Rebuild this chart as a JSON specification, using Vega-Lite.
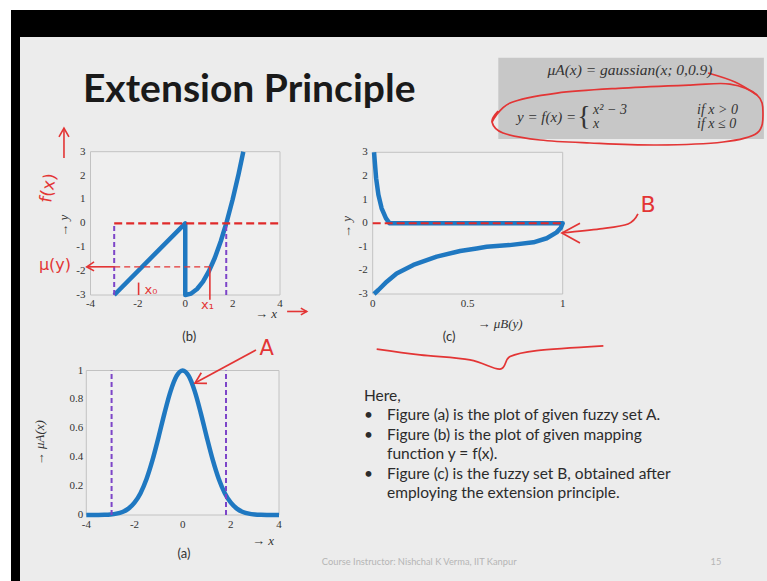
{
  "$schema": "https://vega.github.io/schema/vega-lite/v6.json",
  "width": 756,
  "height": 571,
  "autosize": {"type": "none"},
  "padding": {"left": 11, "top": 10, "right": 0, "bottom": 0},
  "background": "#ffffff",
  "config": {
    "view": {"fill": "#000000", "stroke": null},
    "font": "Lato"
  },
  "resolve": {"scale": {"x": "independent", "y": "independent"}},
  "layer": [
    {
      "data": {"values": [{"left": 0, "right": 1, "top": 0, "bottom": 1}]},
      "mark": {"type": "rect", "fill": "#ececec"},
      "encoding": {
        "x": {"field": "left", "type": "quantitative", "scale": {"domain": [0, 1], "range": [9, 756], "nice": false, "zero": false}, "axis": null},
        "x2": {"field": "right"},
        "y": {"field": "top", "type": "quantitative", "scale": {"domain": [0, 1], "range": [27, 571], "nice": false, "zero": false}, "axis": null},
        "y2": {"field": "bottom"}
      }
    },
    {
      "layer": [
        {
          "data": {"values": [{"x1": -4, "x2": 4, "y1": -3, "y2": 3}]},
          "mark": {"type": "rect", "fill": "#efefef", "stroke": "#c2c2c2", "strokeWidth": 1},
          "encoding": {
            "x": {"field": "x1", "type": "quantitative", "scale": {"domain": [-4, 4], "range": [79.5, 269], "nice": false, "zero": false}, "axis": null},
            "x2": {"field": "x2"},
            "y": {"field": "y1", "type": "quantitative", "scale": {"domain": [-3, 3], "range": [285, 141.7], "nice": false, "zero": false}, "axis": null},
            "y2": {"field": "y2"}
          }
        },
        {
          "data": {"values": [{"v": -3}, {"v": -2}, {"v": -1}, {"v": 0}, {"v": 1}, {"v": 2}, {"v": 3}]},
          "mark": {"type": "text", "align": "right", "baseline": "middle", "dx": -5, "font": "Liberation Serif", "fontSize": 11, "color": "#333333"},
          "encoding": {
            "x": {"datum": -4, "type": "quantitative", "axis": null},
            "y": {"field": "v", "type": "quantitative", "axis": null},
            "text": {"field": "v", "type": "nominal"}
          }
        },
        {
          "data": {"values": [{"v": -4}, {"v": -2}, {"v": 0}, {"v": 2}, {"v": 4}]},
          "mark": {"type": "text", "align": "center", "baseline": "top", "dy": 3, "font": "Liberation Serif", "fontSize": 11, "color": "#333333"},
          "encoding": {
            "x": {"field": "v", "type": "quantitative", "axis": null},
            "y": {"datum": -3, "type": "quantitative", "axis": null},
            "text": {"field": "v", "type": "nominal"}
          }
        },
        {
          "data": {"values": [{"t": "→ y", "x": -5.1, "y": -0.1}]},
          "mark": {"type": "text", "angle": 270, "font": "Liberation Serif", "fontStyle": "italic", "fontSize": 13, "color": "#333333"},
          "encoding": {
            "x": {"field": "x", "type": "quantitative", "axis": null},
            "y": {"field": "y", "type": "quantitative", "axis": null},
            "text": {"field": "t"}
          }
        },
        {
          "data": {"values": [{"t": "→ x", "x": 3.41, "y": -3.8}]},
          "mark": {"type": "text", "font": "Liberation Serif", "fontStyle": "italic", "fontSize": 13, "color": "#333333"},
          "encoding": {
            "x": {"field": "x", "type": "quantitative", "axis": null},
            "y": {"field": "y", "type": "quantitative", "axis": null},
            "text": {"field": "t"}
          }
        },
        {
          "data": {"values": [
            {"i": 0, "x": -3, "y": -3}, {"i": 1, "x": 0, "y": 0}, {"i": 2, "x": 0, "y": -3},
            {"i": 3, "x": 0.25, "y": -2.94}, {"i": 4, "x": 0.5, "y": -2.75}, {"i": 5, "x": 0.75, "y": -2.44},
            {"i": 6, "x": 1, "y": -2}, {"i": 7, "x": 1.25, "y": -1.44}, {"i": 8, "x": 1.5, "y": -0.75},
            {"i": 9, "x": 1.75, "y": 0.06}, {"i": 10, "x": 2, "y": 1}, {"i": 11, "x": 2.25, "y": 2.06}, {"i": 12, "x": 2.45, "y": 3}
          ]},
          "mark": {"type": "line", "color": "#1f78c1", "strokeWidth": 4.5, "strokeJoin": "round"},
          "encoding": {
            "x": {"field": "x", "type": "quantitative", "axis": null},
            "y": {"field": "y", "type": "quantitative", "axis": null},
            "order": {"field": "i", "type": "quantitative"}
          }
        },
        {
          "data": {"values": [{"x": -3, "y": -3, "y2": 0}, {"x": 1.73, "y": -3, "y2": 0}]},
          "mark": {"type": "rule", "color": "#7d45c8", "strokeWidth": 2, "strokeDash": [5, 3]},
          "encoding": {
            "x": {"field": "x", "type": "quantitative", "axis": null},
            "y": {"field": "y", "type": "quantitative", "axis": null},
            "y2": {"field": "y2"}
          }
        },
        {
          "data": {"values": [{"x": -3, "x2": 4, "y": 0}]},
          "mark": {"type": "rule", "color": "#e02a2a", "strokeWidth": 2.2, "strokeDash": [8, 4]},
          "encoding": {
            "x": {"field": "x", "type": "quantitative", "axis": null},
            "x2": {"field": "x2"},
            "y": {"field": "y", "type": "quantitative", "axis": null}
          }
        },
        {
          "data": {"values": [
            {"seg": "up", "i": 0, "x": -5.12, "y": 2.74}, {"seg": "up", "i": 1, "x": -5.12, "y": 3.99},
            {"seg": "uph", "i": 0, "x": -5.33, "y": 3.62}, {"seg": "uph", "i": 1, "x": -5.12, "y": 3.99}, {"seg": "uph", "i": 2, "x": -4.91, "y": 3.62},
            {"seg": "ms", "i": 0, "x": -4.16, "y": -1.82}, {"seg": "ms", "i": 1, "x": -3.0, "y": -1.82},
            {"seg": "mh", "i": 0, "x": -3.85, "y": -1.615}, {"seg": "mh", "i": 1, "x": -4.16, "y": -1.82}, {"seg": "mh", "i": 2, "x": -3.85, "y": -1.99},
            {"seg": "x0", "i": 0, "x": -1.97, "y": -3.0}, {"seg": "x0", "i": 1, "x": -1.97, "y": -2.48},
            {"seg": "x1", "i": 0, "x": 1.04, "y": -1.82}, {"seg": "x1", "i": 1, "x": 1.04, "y": -3.2},
            {"seg": "xa", "i": 0, "x": 4.3, "y": -3.69}, {"seg": "xa", "i": 1, "x": 5.13, "y": -3.69},
            {"seg": "xah", "i": 0, "x": 4.88, "y": -3.55}, {"seg": "xah", "i": 1, "x": 5.13, "y": -3.69}, {"seg": "xah", "i": 2, "x": 4.88, "y": -3.83}
          ]},
          "mark": {"type": "line", "color": "#e33535", "strokeWidth": 1.6},
          "encoding": {
            "x": {"field": "x", "type": "quantitative", "axis": null},
            "y": {"field": "y", "type": "quantitative", "axis": null},
            "detail": {"field": "seg"},
            "order": {"field": "i", "type": "quantitative"}
          }
        },
        {
          "data": {"values": [{"i": 0, "x": -3.0, "y": -1.82}, {"i": 1, "x": 1.04, "y": -1.82}]},
          "mark": {"type": "line", "color": "#e33535", "strokeWidth": 1.3, "strokeDash": [6, 4]},
          "encoding": {
            "x": {"field": "x", "type": "quantitative", "axis": null},
            "y": {"field": "y", "type": "quantitative", "axis": null},
            "order": {"field": "i", "type": "quantitative"}
          }
        },
        {
          "data": {"values": [{"t": "μ(y)", "x": -5.5, "y": -1.76}]},
          "mark": {"type": "text", "color": "#e33535", "font": "DejaVu Sans", "fontSize": 16},
          "encoding": {
            "x": {"field": "x", "type": "quantitative", "axis": null},
            "y": {"field": "y", "type": "quantitative", "axis": null},
            "text": {"field": "t"}
          }
        },
        {
          "data": {"values": [{"t": "x₀", "x": -1.45, "y": -2.79}, {"t": "x₁", "x": 0.94, "y": -3.42}]},
          "mark": {"type": "text", "color": "#e33535", "font": "DejaVu Sans", "fontSize": 13},
          "encoding": {
            "x": {"field": "x", "type": "quantitative", "axis": null},
            "y": {"field": "y", "type": "quantitative", "axis": null},
            "text": {"field": "t"}
          }
        },
        {
          "data": {"values": [{"t": "f(x)", "x": -5.77, "y": 1.48}]},
          "mark": {"type": "text", "color": "#e33535", "font": "DejaVu Sans", "fontSize": 17, "angle": 280},
          "encoding": {
            "x": {"field": "x", "type": "quantitative", "axis": null},
            "y": {"field": "y", "type": "quantitative", "axis": null},
            "text": {"field": "t"}
          }
        },
        {
          "data": {"values": [{"t": "(b)", "x": 0.17, "y": -4.75}]},
          "mark": {"type": "text", "color": "#333333", "font": "Lato", "fontSize": 13},
          "encoding": {
            "x": {"field": "x", "type": "quantitative", "axis": null},
            "y": {"field": "y", "type": "quantitative", "axis": null},
            "text": {"field": "t"}
          }
        },
        {
          "data": {"values": [{"t": "Extension Principle", "x": -4.32, "y": 5.08}]},
          "mark": {"type": "text", "color": "#1a1a1a", "font": "Lato", "fontSize": 39, "fontWeight": "bold", "align": "left", "baseline": "alphabetic"},
          "encoding": {
            "x": {"field": "x", "type": "quantitative", "axis": null},
            "y": {"field": "y", "type": "quantitative", "axis": null},
            "text": {"field": "t"}
          }
        }
      ]
    },
    {
      "layer": [
        {
          "data": {"values": [{"x1": 0, "x2": 1, "y1": -3, "y2": 3}]},
          "mark": {"type": "rect", "fill": "#efefef", "stroke": "#c2c2c2", "strokeWidth": 1},
          "encoding": {
            "x": {"field": "x1", "type": "quantitative", "scale": {"domain": [0, 1], "range": [361.7, 551.7], "nice": false, "zero": false}, "axis": null},
            "x2": {"field": "x2"},
            "y": {"field": "y1", "type": "quantitative", "scale": {"domain": [-3, 3], "range": [284, 142.3], "nice": false, "zero": false}, "axis": null},
            "y2": {"field": "y2"}
          }
        },
        {
          "data": {"values": [{"v": -3}, {"v": -2}, {"v": -1}, {"v": 0}, {"v": 1}, {"v": 2}, {"v": 3}]},
          "mark": {"type": "text", "align": "right", "baseline": "middle", "dx": -5, "font": "Liberation Serif", "fontSize": 11, "color": "#333333"},
          "encoding": {
            "x": {"datum": 0, "type": "quantitative", "axis": null},
            "y": {"field": "v", "type": "quantitative", "axis": null},
            "text": {"field": "v", "type": "nominal"}
          }
        },
        {
          "data": {"values": [{"v": 0}, {"v": 0.5}, {"v": 1}]},
          "mark": {"type": "text", "align": "center", "baseline": "top", "dy": 4, "font": "Liberation Serif", "fontSize": 11, "color": "#333333"},
          "encoding": {
            "x": {"field": "v", "type": "quantitative", "axis": null},
            "y": {"datum": -3, "type": "quantitative", "axis": null},
            "text": {"field": "v", "type": "nominal"}
          }
        },
        {
          "data": {"values": [{"t": "→ y", "mu": -0.135, "y": -0.16}]},
          "mark": {"type": "text", "angle": 270, "font": "Liberation Serif", "fontStyle": "italic", "fontSize": 13, "color": "#333333"},
          "encoding": {
            "x": {"field": "mu", "type": "quantitative", "axis": null},
            "y": {"field": "y", "type": "quantitative", "axis": null},
            "text": {"field": "t"}
          }
        },
        {
          "data": {"values": [{"t": "→ μB(y)", "mu": 0.67, "y": -4.27}]},
          "mark": {"type": "text", "font": "Liberation Serif", "fontStyle": "italic", "fontSize": 13, "color": "#333333"},
          "encoding": {
            "x": {"field": "mu", "type": "quantitative", "axis": null},
            "y": {"field": "y", "type": "quantitative", "axis": null},
            "text": {"field": "t"}
          }
        },
        {
          "data": {"values": [{"x1": 0.661, "x2": 2.059, "y1": 3.563, "y2": 7.003}]},
          "mark": {"type": "rect", "fill": "#c7c7c7"},
          "encoding": {
            "x": {"field": "x1", "type": "quantitative", "axis": null},
            "x2": {"field": "x2"},
            "y": {"field": "y1", "type": "quantitative", "axis": null},
            "y2": {"field": "y2"}
          }
        },
        {
          "data": {"values": [
            {"i": 0, "mu": 0.007, "y": 3}, {"i": 1, "mu": 0.012, "y": 2.5}, {"i": 2, "mu": 0.018, "y": 1.9},
            {"i": 3, "mu": 0.03, "y": 1.2}, {"i": 4, "mu": 0.047, "y": 0.63}, {"i": 5, "mu": 0.07, "y": 0.2},
            {"i": 6, "mu": 0.088, "y": 0}, {"i": 7, "mu": 1.0, "y": 0}, {"i": 8, "mu": 0.99, "y": -0.2},
            {"i": 9, "mu": 0.968, "y": -0.39}, {"i": 10, "mu": 0.916, "y": -0.64}, {"i": 11, "mu": 0.846, "y": -0.81},
            {"i": 12, "mu": 0.72, "y": -0.93}, {"i": 13, "mu": 0.6, "y": -1.0}, {"i": 14, "mu": 0.547, "y": -1.07},
            {"i": 15, "mu": 0.46, "y": -1.18}, {"i": 16, "mu": 0.337, "y": -1.42}, {"i": 17, "mu": 0.214, "y": -1.77},
            {"i": 18, "mu": 0.126, "y": -2.13}, {"i": 19, "mu": 0.074, "y": -2.48}, {"i": 20, "mu": 0.03, "y": -2.83},
            {"i": 21, "mu": 0.007, "y": -3}
          ]},
          "mark": {"type": "line", "color": "#1f78c1", "strokeWidth": 4.5, "strokeJoin": "round"},
          "encoding": {
            "x": {"field": "mu", "type": "quantitative", "axis": null},
            "y": {"field": "y", "type": "quantitative", "axis": null},
            "order": {"field": "i", "type": "quantitative"}
          }
        },
        {
          "data": {"values": [{"mu": 0, "mu2": 1, "y": 0}]},
          "mark": {"type": "rule", "color": "#e02a2a", "strokeWidth": 2, "strokeDash": [8, 4]},
          "encoding": {
            "x": {"field": "mu", "type": "quantitative", "axis": null},
            "x2": {"field": "mu2"},
            "y": {"field": "y", "type": "quantitative", "axis": null}
          }
        },
        {
          "data": {"values": [
            {"seg": "e", "i": 0, "mu": 0.628, "y": 4.282}, {"seg": "e", "i": 1, "mu": 0.723, "y": 5.086},
            {"seg": "e", "i": 2, "mu": 0.97, "y": 5.509}, {"seg": "e", "i": 3, "mu": 1.317, "y": 5.721},
            {"seg": "e", "i": 4, "mu": 1.67, "y": 5.848}, {"seg": "e", "i": 5, "mu": 1.88, "y": 5.89},
            {"seg": "e", "i": 6, "mu": 2.023, "y": 5.425}, {"seg": "e", "i": 7, "mu": 2.054, "y": 4.705},
            {"seg": "e", "i": 8, "mu": 2.023, "y": 3.817}, {"seg": "e", "i": 9, "mu": 1.844, "y": 3.436},
            {"seg": "e", "i": 10, "mu": 1.496, "y": 3.309}, {"seg": "e", "i": 11, "mu": 1.144, "y": 3.394},
            {"seg": "e", "i": 12, "mu": 0.881, "y": 3.521}, {"seg": "e", "i": 13, "mu": 0.686, "y": 3.817},
            {"seg": "e", "i": 14, "mu": 0.628, "y": 4.282}, {"seg": "e", "i": 15, "mu": 0.66, "y": 4.75},
            {"seg": "t", "i": 0, "mu": 1.765, "y": 6.356}, {"seg": "t", "i": 1, "mu": 1.907, "y": 5.975}, {"seg": "t", "i": 2, "mu": 2.023, "y": 5.425},
            {"seg": "br", "i": 0, "mu": 0.021, "y": -5.337}, {"seg": "br", "i": 1, "mu": 0.249, "y": -5.578},
            {"seg": "br", "i": 2, "mu": 0.512, "y": -5.79}, {"seg": "br", "i": 3, "mu": 0.67, "y": -6.183},
            {"seg": "br", "i": 4, "mu": 0.723, "y": -5.65}, {"seg": "br", "i": 5, "mu": 0.863, "y": -5.396},
            {"seg": "br", "i": 6, "mu": 1.214, "y": -5.197},
            {"seg": "bl", "i": 0, "mu": 0.996, "y": -0.415}, {"seg": "bl", "i": 1, "mu": 1.196, "y": -0.246},
            {"seg": "bl", "i": 2, "mu": 1.344, "y": -0.034}, {"seg": "bl", "i": 3, "mu": 1.396, "y": 0.389}
          ]},
          "mark": {"type": "line", "color": "#e33535", "strokeWidth": 1.7, "interpolate": "cardinal"},
          "encoding": {
            "x": {"field": "mu", "type": "quantitative", "axis": null},
            "y": {"field": "y", "type": "quantitative", "axis": null},
            "detail": {"field": "seg"},
            "order": {"field": "i", "type": "quantitative"}
          }
        },
        {
          "data": {"values": [
            {"i": 0, "mu": 1.091, "y": 0.0}, {"i": 1, "mu": 0.996, "y": -0.415}, {"i": 2, "mu": 1.091, "y": -0.838}
          ]},
          "mark": {"type": "line", "color": "#e33535", "strokeWidth": 1.7},
          "encoding": {
            "x": {"field": "mu", "type": "quantitative", "axis": null},
            "y": {"field": "y", "type": "quantitative", "axis": null},
            "order": {"field": "i", "type": "quantitative"}
          }
        },
        {
          "data": {"values": [{"t": "B", "mu": 1.449, "y": 0.77}]},
          "mark": {"type": "text", "color": "#e33535", "font": "DejaVu Sans", "fontSize": 22},
          "encoding": {
            "x": {"field": "mu", "type": "quantitative", "axis": null},
            "y": {"field": "y", "type": "quantitative", "axis": null},
            "text": {"field": "t"}
          }
        },
        {
          "data": {"values": [{"t": "μA(x) = gaussian(x; 0,0.9)", "mu": 1.354, "y": 6.48}]},
          "mark": {"type": "text", "color": "#333333", "font": "Liberation Serif", "fontSize": 15.5, "fontStyle": "italic"},
          "encoding": {
            "x": {"field": "mu", "type": "quantitative", "axis": null},
            "y": {"field": "y", "type": "quantitative", "axis": null},
            "text": {"field": "t"}
          }
        },
        {
          "data": {"values": [
            {"t": "x² − 3", "mu": 1.16, "y": 4.8}, {"t": "x", "mu": 1.16, "y": 4.19},
            {"t": "if x > 0", "mu": 1.707, "y": 4.8}, {"t": "if x ≤ 0", "mu": 1.707, "y": 4.19}
          ]},
          "mark": {"type": "text", "color": "#333333", "font": "Liberation Serif", "fontSize": 14, "fontStyle": "italic", "align": "left"},
          "encoding": {
            "x": {"field": "mu", "type": "quantitative", "axis": null},
            "y": {"field": "y", "type": "quantitative", "axis": null},
            "text": {"field": "t"}
          }
        },
        {
          "data": {"values": [{"t": "y = f(x) =", "mu": 1.07, "y": 4.49}]},
          "mark": {"type": "text", "color": "#333333", "font": "Liberation Serif", "fontSize": 15, "fontStyle": "italic", "align": "right"},
          "encoding": {
            "x": {"field": "mu", "type": "quantitative", "axis": null},
            "y": {"field": "y", "type": "quantitative", "axis": null},
            "text": {"field": "t"}
          }
        },
        {
          "data": {"values": [{"t": "{", "mu": 1.112, "y": 4.49}]},
          "mark": {"type": "text", "color": "#333333", "font": "Liberation Serif", "fontSize": 28},
          "encoding": {
            "x": {"field": "mu", "type": "quantitative", "axis": null},
            "y": {"field": "y", "type": "quantitative", "axis": null},
            "text": {"field": "t"}
          }
        },
        {
          "data": {"values": [{"t": "(c)", "mu": 0.402, "y": -4.84}]},
          "mark": {"type": "text", "color": "#333333", "font": "Lato", "fontSize": 13},
          "encoding": {
            "x": {"field": "mu", "type": "quantitative", "axis": null},
            "y": {"field": "y", "type": "quantitative", "axis": null},
            "text": {"field": "t"}
          }
        }
      ]
    },
    {
      "layer": [
        {
          "data": {"values": [{"x1": -4, "x2": 4, "y1": 0, "y2": 1}]},
          "mark": {"type": "rect", "fill": "#efefef", "stroke": "#c2c2c2", "strokeWidth": 1},
          "encoding": {
            "x": {"field": "x1", "type": "quantitative", "scale": {"domain": [-4, 4], "range": [75.3, 268], "nice": false, "zero": false}, "axis": null},
            "x2": {"field": "x2"},
            "y": {"field": "y1", "type": "quantitative", "scale": {"domain": [0, 1], "range": [505, 360.5], "nice": false, "zero": false}, "axis": null},
            "y2": {"field": "y2"}
          }
        },
        {
          "data": {"values": [{"v": 0}, {"v": 0.2}, {"v": 0.4}, {"v": 0.6}, {"v": 0.8}, {"v": 1}]},
          "mark": {"type": "text", "align": "right", "baseline": "middle", "dx": -3, "font": "Liberation Serif", "fontSize": 11, "color": "#333333"},
          "encoding": {
            "x": {"datum": -4, "type": "quantitative", "axis": null},
            "y": {"field": "v", "type": "quantitative", "axis": null},
            "text": {"field": "v", "type": "nominal"}
          }
        },
        {
          "data": {"values": [{"v": -4}, {"v": -2}, {"v": 0}, {"v": 2}, {"v": 4}]},
          "mark": {"type": "text", "align": "center", "baseline": "top", "dy": 4, "font": "Liberation Serif", "fontSize": 11, "color": "#333333"},
          "encoding": {
            "x": {"field": "v", "type": "quantitative", "axis": null},
            "y": {"datum": 0, "type": "quantitative", "axis": null},
            "text": {"field": "v", "type": "nominal"}
          }
        },
        {
          "data": {"values": [{"t": "→ μA(x)", "x": -5.92, "m": 0.5}]},
          "mark": {"type": "text", "angle": 270, "font": "Liberation Serif", "fontStyle": "italic", "fontSize": 13, "color": "#333333"},
          "encoding": {
            "x": {"field": "x", "type": "quantitative", "axis": null},
            "y": {"field": "m", "type": "quantitative", "axis": null},
            "text": {"field": "t"}
          }
        },
        {
          "data": {"values": [{"t": "→ x", "x": 3.335, "m": -0.18}]},
          "mark": {"type": "text", "font": "Liberation Serif", "fontStyle": "italic", "fontSize": 13, "color": "#333333"},
          "encoding": {
            "x": {"field": "x", "type": "quantitative", "axis": null},
            "y": {"field": "m", "type": "quantitative", "axis": null},
            "text": {"field": "t"}
          }
        },
        {
          "data": {"values": [
            {"x": -4, "m": 0.00005}, {"x": -3.75, "m": 0.0002}, {"x": -3.5, "m": 0.0005}, {"x": -3.25, "m": 0.0015},
            {"x": -3, "m": 0.0039}, {"x": -2.75, "m": 0.0094}, {"x": -2.5, "m": 0.021}, {"x": -2.25, "m": 0.044},
            {"x": -2, "m": 0.085}, {"x": -1.75, "m": 0.151}, {"x": -1.5, "m": 0.249}, {"x": -1.25, "m": 0.381},
            {"x": -1, "m": 0.539}, {"x": -0.75, "m": 0.707}, {"x": -0.5, "m": 0.857}, {"x": -0.25, "m": 0.962},
            {"x": 0, "m": 1}, {"x": 0.25, "m": 0.962}, {"x": 0.5, "m": 0.857}, {"x": 0.75, "m": 0.707},
            {"x": 1, "m": 0.539}, {"x": 1.25, "m": 0.381}, {"x": 1.5, "m": 0.249}, {"x": 1.75, "m": 0.151},
            {"x": 2, "m": 0.085}, {"x": 2.25, "m": 0.044}, {"x": 2.5, "m": 0.021}, {"x": 2.75, "m": 0.0094},
            {"x": 3, "m": 0.0039}, {"x": 3.25, "m": 0.0015}, {"x": 3.5, "m": 0.0005}, {"x": 3.75, "m": 0.0002}, {"x": 4, "m": 0.00005}
          ]},
          "mark": {"type": "line", "color": "#1f78c1", "strokeWidth": 4.5, "interpolate": "monotone"},
          "encoding": {
            "x": {"field": "x", "type": "quantitative", "axis": null},
            "y": {"field": "m", "type": "quantitative", "axis": null}
          }
        },
        {
          "data": {"values": [{"x": -2.95, "m": 0, "m2": 1}, {"x": 1.8, "m": 0, "m2": 1}]},
          "mark": {"type": "rule", "color": "#7d45c8", "strokeWidth": 2, "strokeDash": [5, 3]},
          "encoding": {
            "x": {"field": "x", "type": "quantitative", "axis": null},
            "y": {"field": "m", "type": "quantitative", "axis": null},
            "y2": {"field": "m2"}
          }
        },
        {
          "data": {"values": [
            {"seg": "a", "i": 0, "x": 3.044, "m": 1.142}, {"seg": "a", "i": 1, "x": 0.512, "m": 0.913},
            {"seg": "ah", "i": 0, "x": 0.774, "m": 0.984}, {"seg": "ah", "i": 1, "x": 0.512, "m": 0.913}, {"seg": "ah", "i": 2, "x": 1.01, "m": 0.911}
          ]},
          "mark": {"type": "line", "color": "#e33535", "strokeWidth": 1.7},
          "encoding": {
            "x": {"field": "x", "type": "quantitative", "axis": null},
            "y": {"field": "m", "type": "quantitative", "axis": null},
            "detail": {"field": "seg"},
            "order": {"field": "i", "type": "quantitative"}
          }
        },
        {
          "data": {"values": [{"t": "A", "x": 3.49, "m": 1.149}]},
          "mark": {"type": "text", "color": "#e33535", "font": "DejaVu Sans", "fontSize": 21},
          "encoding": {
            "x": {"field": "x", "type": "quantitative", "axis": null},
            "y": {"field": "m", "type": "quantitative", "axis": null},
            "text": {"field": "t"}
          }
        },
        {
          "data": {"values": [{"t": "(a)", "x": 0.056, "m": -0.27}]},
          "mark": {"type": "text", "color": "#333333", "font": "Lato", "fontSize": 13},
          "encoding": {
            "x": {"field": "x", "type": "quantitative", "axis": null},
            "y": {"field": "m", "type": "quantitative", "axis": null},
            "text": {"field": "t"}
          }
        }
      ]
    },
    {
      "layer": [
        {
          "data": {"values": [
            {"line": 0, "col": 0, "text": "Here,"},
            {"line": 1, "col": 0, "text": "•"},
            {"line": 1, "col": 1, "text": "Figure (a) is the plot of given fuzzy set A."},
            {"line": 2, "col": 0, "text": "•"},
            {"line": 2, "col": 1, "text": "Figure (b) is the plot of given mapping"},
            {"line": 3, "col": 1, "text": "function y = f(x)."},
            {"line": 4, "col": 0, "text": "•"},
            {"line": 4, "col": 1, "text": "Figure (c) is the fuzzy set B, obtained after"},
            {"line": 5, "col": 1, "text": "employing the extension principle."}
          ]},
          "mark": {"type": "text", "align": "left", "font": "Lato", "fontSize": 15.5, "color": "#2b2b2b"},
          "encoding": {
            "x": {"field": "col", "type": "quantitative", "scale": {"domain": [0, 1], "range": [353, 376], "nice": false, "zero": false}, "axis": null},
            "y": {"field": "line", "type": "quantitative", "scale": {"domain": [0, 5], "range": [386, 483], "nice": false, "zero": false}, "axis": null},
            "text": {"field": "text"}
          }
        },
        {
          "data": {"values": [
            {"line": 8.55, "col": 2.4, "text": "Course Instructor: Nishchal K Verma, IIT Kanpur"},
            {"line": 8.55, "col": 15.3, "text": "15"}
          ]},
          "mark": {"type": "text", "align": "center", "font": "Lato", "fontSize": 9.3, "color": "#b5b5b5"},
          "encoding": {
            "x": {"field": "col", "type": "quantitative", "axis": null},
            "y": {"field": "line", "type": "quantitative", "axis": null},
            "text": {"field": "text"}
          }
        }
      ]
    }
  ]
}
